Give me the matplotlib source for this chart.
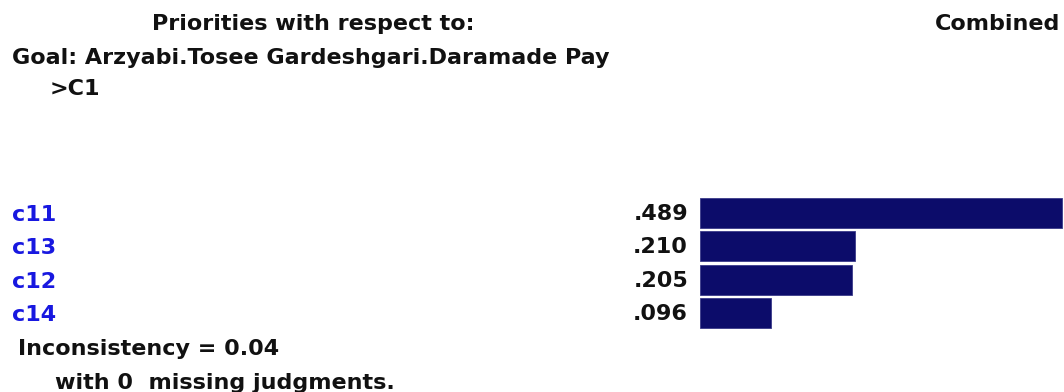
import matplotlib
matplotlib.use("Agg")
import matplotlib.pyplot as plt
from matplotlib.patches import Rectangle

categories = ["c11", "c13", "c12", "c14"]
values = [0.489, 0.210, 0.205, 0.096]
value_labels = [".489", ".210", ".205", ".096"]

W, H = 1064, 392
fig = plt.figure(figsize=(W / 100, H / 100), dpi=100)
fig.patch.set_facecolor("white")

def fx(x):
    return x / W

def fy(y):
    return 1 - y / H

FONT = "DejaVu Sans"
FS = 16
BLACK = "#111111"
BLUE = "#1818e0"
NAVY = "#0c0c6a"

# bar axes
ax_left, ax_right = 700, 1064
ax_top, ax_bot = 196, 330
ax = fig.add_axes([fx(ax_left), fy(ax_bot), fx(ax_right - ax_left), (ax_bot - ax_top) / H])
ypos = list(range(len(categories)))
ax.barh(ypos, values, height=0.9, color=NAVY, edgecolor="#3a3a8a", linewidth=0.6)
ax.set_xlim(0, (ax_right - ax_left) / 740.0)
ax.set_ylim(len(categories) - 0.5, -0.5)
ax.axis("off")

# category labels and value labels, positioned via axes data coords in y
for i, (c, lab) in enumerate(zip(categories, value_labels)):
    ax.annotate(c, xy=(0, i), xycoords=("figure fraction", "data"),
                xytext=(12, -2), textcoords="offset pixels",
                ha="left", va="center", fontsize=FS, fontweight="bold",
                color=BLUE, family=FONT, annotation_clip=False)
    ax.annotate(lab, xy=(0, i), xycoords=("axes fraction", "data"),
                xytext=(-12, -1), textcoords="offset pixels",
                ha="right", va="center", fontsize=FS, fontweight="bold",
                color=BLACK, family=FONT, annotation_clip=False)

# header texts
fig.text(fx(152), fy(24), "Priorities with respect to:", ha="left", va="center",
         fontsize=FS, fontweight="bold", color=BLACK, family=FONT)
fig.text(fx(1060), fy(24), "Combined", ha="right", va="center",
         fontsize=FS, fontweight="bold", color=BLACK, family=FONT)
goal = fig.text(fx(12), fy(58), "Goal: Arzyabi.Tosee Gardeshgari.Daramade Pay",
                ha="left", va="center", fontsize=FS, fontweight="bold",
                color=BLACK, family=FONT)
clip = Rectangle((0, 0), fx(620), 1, transform=fig.transFigure, visible=False)
fig.add_artist(clip)
goal.set_clip_path(clip)
fig.text(fx(50), fy(89), ">C1", ha="left", va="center",
         fontsize=FS, fontweight="bold", color=BLACK, family=FONT)

# footer texts
fig.text(fx(18), fy(349), "Inconsistency = 0.04", ha="left", va="center",
         fontsize=FS, fontweight="bold", color=BLACK, family=FONT)
fig.text(fx(55), fy(383), "with 0  missing judgments.", ha="left", va="center",
         fontsize=FS, fontweight="bold", color=BLACK, family=FONT)

fig.savefig("out.png", dpi=100, facecolor="white")
